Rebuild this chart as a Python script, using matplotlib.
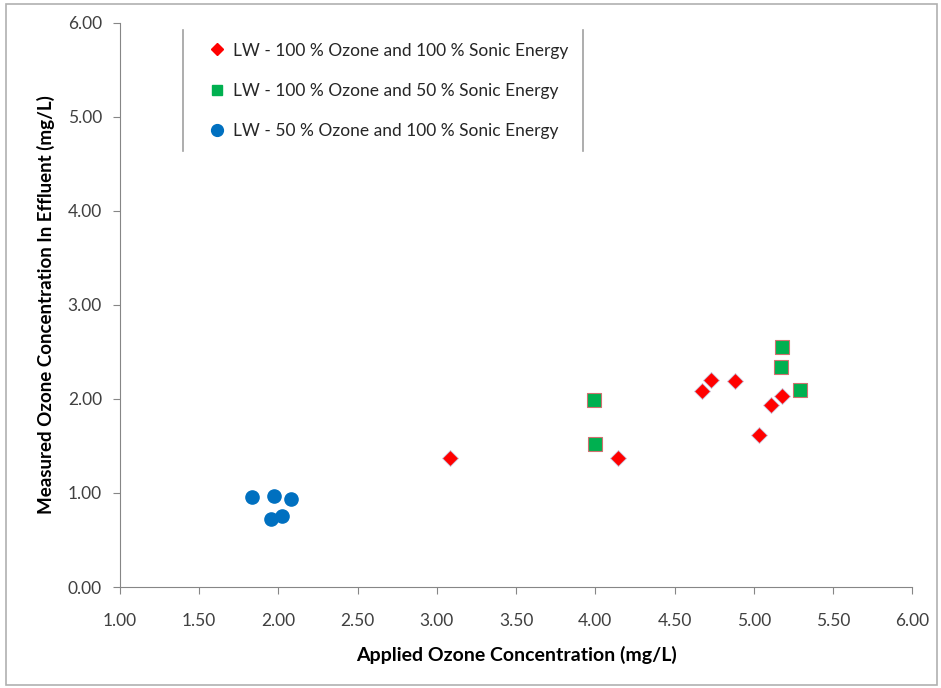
import matplotlib
matplotlib.use("Agg")
import matplotlib.pyplot as plt
from matplotlib.lines import Line2D
from matplotlib.patches import Rectangle

plt.rcParams["font.family"] = ["Lato", "DejaVu Sans"]

# LW - 100 % ozone, 100 % sonic energy
x_full = [3.08, 4.14, 4.67, 4.73, 4.88, 5.03, 5.11, 5.18]
y_full = [1.37, 1.37, 2.08, 2.20, 2.19, 1.62, 1.94, 2.03]
# LW - 100 % ozone, 50 % sonic energy
x_half_sonic = [3.99, 4.00, 5.18, 5.17, 5.29]
y_half_sonic = [1.99, 1.52, 2.55, 2.34, 2.10]
# LW - 50 % ozone, 100 % sonic energy
x_half_ozone = [1.83, 1.97, 2.08, 1.95, 2.02]
y_half_ozone = [0.96, 0.97, 0.94, 0.72, 0.76]

labels = ["LW - 100 % Ozone and 100 % Sonic Energy",
          "LW - 100 % Ozone and 50 % Sonic Energy",
          "LW - 50 % Ozone and 100 % Sonic Energy"]
xticks = [1.0, 1.5, 2.0, 2.5, 3.0, 3.5, 4.0, 4.5, 5.0, 5.5, 6.0]
yticks = [0, 1, 2, 3, 4, 5, 6]

RED, GREEN, BLUE = "#ff0000", "#00b050", "#0070c0"
AXC = "#868686"

fig = plt.figure(figsize=(9.41, 6.88), dpi=100)
ax = fig.add_axes([0.1275, 0.1468, 0.842, 0.8198])

ax.plot(x_full, y_full, "D", ms=8.5, color=RED, mec="#c8c8e0", mew=0.6, zorder=3)
ax.plot(x_half_sonic, y_half_sonic, "s", ms=9.5, color=GREEN, mec="#d07070", mew=0.8, zorder=3)
ax.plot(x_half_ozone, y_half_ozone, "o", ms=9.5, color=BLUE, mec=BLUE, zorder=3)

ax.set_xlim(1, 6)
ax.set_ylim(0, 6)
ax.set_xticks(xticks)
ax.set_yticks(yticks)
ax.set_xticklabels([f"{v:.2f}" for v in xticks])
ax.set_yticklabels([f"{v:.2f}" for v in yticks])
ax.tick_params(colors=AXC, labelcolor="#404040", labelsize=12.5, length=5, width=0.8)
ax.tick_params(axis="x", pad=14)
ax.tick_params(axis="y", pad=8)
ax.spines[["top", "right"]].set_visible(False)
ax.spines[["left", "bottom"]].set_color(AXC)
ax.spines[["left", "bottom"]].set_linewidth(0.8)

ax.set_xlabel("Applied Ozone Concentration (mg/L)", fontsize=14, fontweight="bold", labelpad=12)
ax.set_ylabel("Measured Ozone Concentration In Effluent (mg/L)", fontsize=13.5,
              fontweight="bold", labelpad=9)

handles = [Line2D([], [], ls="", marker="D", ms=6.5, color=RED),
           Line2D([], [], ls="", marker="s", ms=7.5, color=GREEN),
           Line2D([], [], ls="", marker="o", ms=8.5, color=BLUE)]
ax.legend(handles, labels, loc="upper left", bbox_to_anchor=(0.092, 0.993), frameon=False,
          fontsize=12.5, labelspacing=1.4, handletextpad=0.4, handlelength=1.0,
          labelcolor="#262626")

# legend side rules and outer chart border
for xf in (183 / 941, 583 / 941):
    fig.add_artist(Line2D([xf, xf], [1 - 30 / 688, 1 - 151 / 688], color="#a0a0a0", lw=1.2))
fig.add_artist(Rectangle((0.006, 0.004), 0.99, 0.99, fill=False, ec="#b0b0b0", lw=1.2,
                         transform=fig.transFigure))

fig.savefig("out.png", dpi=100)
